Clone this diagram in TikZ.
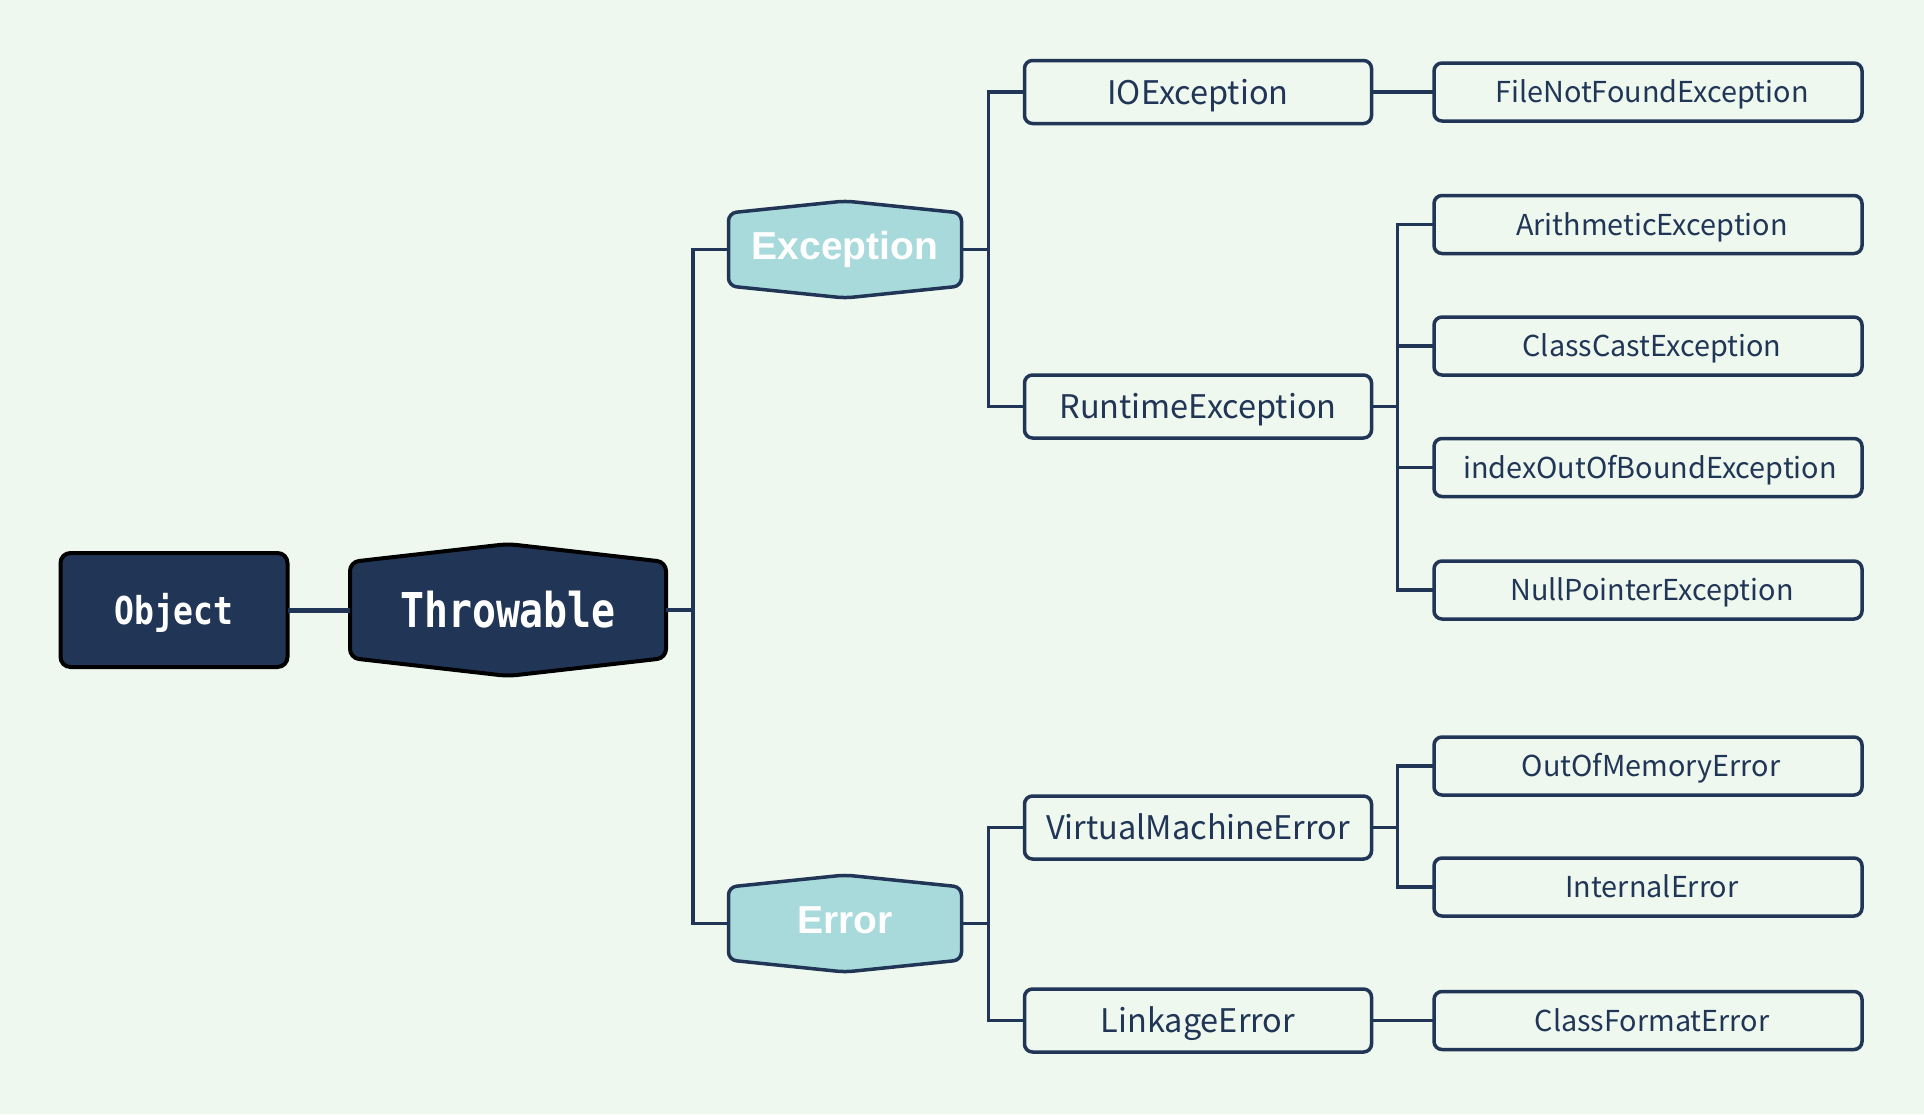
\documentclass[tikz,border=0pt]{standalone}
\usepackage{fontspec}
\newfontfamily\boxfont{Noto Sans CJK SC}
\newfontfamily\hexfont{Liberation Sans}
\newfontfamily\codefont{DejaVu Sans Mono}
\definecolor{bgc}{HTML}{EEF8EE}
\definecolor{navy}{HTML}{213656}
\definecolor{hexfill}{HTML}{A8DADC}
\pgfdeclarelayer{bg}
\pgfdeclarelayer{shp}
\pgfsetlayers{bg,shp,main}
\newcommand\hexshape[3]{\draw[#3] (#1.north) -- ([yshift=-#2pt]#1.north east) -- ([yshift=#2pt]#1.south east) -- (#1.south) -- ([yshift=#2pt]#1.south west) -- ([yshift=-#2pt]#1.north west) -- cycle;}
\begin{document}
\begin{tikzpicture}[x=1pt,y=-1pt,
  conn/.style={draw=navy,line width=3.2pt},
  midbox/.style={draw=navy,line width=3.5pt,rounded corners=8pt,minimum width=347pt,minimum height=63pt,inner sep=0pt,outer sep=0pt,text=navy,text height=24pt,text depth=0pt,font=\boxfont\fontsize{32.5}{38}\selectfont},
  leafbox/.style={draw=navy,line width=3.5pt,rounded corners=8pt,minimum width=428pt,minimum height=58pt,inner sep=0pt,outer sep=0pt,text=navy,text height=21pt,text depth=0pt,font=\boxfont\fontsize{28.8}{34}\selectfont},
  hexnode/.style={inner sep=0pt,outer sep=0pt,minimum width=233pt,minimum height=97pt,text=white,text height=27.6pt,text depth=8pt,font=\hexfont\bfseries\fontsize{39}{44}\selectfont},
  darkhex/.style={fill=navy,draw=black,line width=4pt,rounded corners=9pt},
  lighthex/.style={fill=hexfill,draw=navy,line width=3.5pt,rounded corners=8pt}
]
\begin{pgfonlayer}{bg}
\fill[bgc] (0,0) rectangle (1924,1114);
\end{pgfonlayer}
% root nodes
\node[draw=black,fill=navy,line width=4pt,rounded corners=10pt,minimum width=227pt,minimum height=114pt,inner sep=0pt,outer sep=0pt,text=white,text height=28pt,text depth=0pt,font=\codefont\bfseries\fontsize{38.4}{44}\selectfont] (obj) at (174,610) {\scalebox{0.86}[1]{Object}};
\node[inner sep=0pt,outer sep=0pt,minimum width=316pt,minimum height=132pt,text=white,text height=35pt,text depth=0pt,font=\codefont\bfseries\fontsize{48}{54}\selectfont] (thr) at (508,610) {\scalebox{0.83}[1]{Throwable}};
\node[hexnode] (exc) at (845,249.5) {Exception};
\node[hexnode] (err) at (845,923.5) {Error};
% middle boxes
\node[midbox] (io) at (1198,92) {IOException};
\node[midbox] (rt) at (1198,406.5) {RuntimeException};
\node[midbox] (vm) at (1198,827.5) {VirtualMachineError};
\node[midbox] (lk) at (1198,1020.5) {LinkageError};
% leaves
\node[leafbox] (fnf) at (1648,92) {\hspace*{8pt}FileNotFoundException};
\node[leafbox] (ari) at (1648,224.5) {\hspace*{8pt}ArithmeticException};
\node[leafbox] (ccx) at (1648,346) {\hspace*{8pt}ClassCastException};
\node[leafbox] (iob) at (1648,467.5) {\hspace*{4pt}indexOutOfBoundException};
\node[leafbox] (npe) at (1648,590) {\hspace*{8pt}NullPointerException};
\node[leafbox] (oom) at (1648,766) {\hspace*{6pt}OutOfMemoryError};
\node[leafbox] (ine) at (1648,887) {\hspace*{8pt}InternalError};
\node[leafbox] (cfe) at (1648,1020.5) {\hspace*{8pt}ClassFormatError};
% hexagon outlines
\begin{pgfonlayer}{shp}
\hexshape{thr}{18}{darkhex}
\hexshape{exc}{12}{lighthex}
\hexshape{err}{12}{lighthex}
\end{pgfonlayer}
% connectors
\draw[draw=navy,line width=5pt] (obj.east) -- (thr.west);
\coordinate (j0) at ([xshift=27pt]thr.east);
\draw[conn] (thr.east) -- (j0) |- (exc.west);
\draw[conn] (j0) |- (err.west);
\coordinate (j1) at ([xshift=27pt]exc.east);
\draw[conn] (exc.east) -- (j1) |- (io.west);
\draw[conn] (j1) |- (rt.west);
\coordinate (j2) at ([xshift=27pt]err.east);
\draw[conn] (err.east) -- (j2) |- (vm.west);
\draw[conn] (j2) |- (lk.west);
\draw[conn] (io.east) -- (fnf.west);
\coordinate (j3) at ([xshift=26pt]rt.east);
\draw[conn] (rt.east) -- (j3) |- (ari.west);
\draw[conn] (j3) |- (ccx.west);
\draw[conn] (j3) |- (iob.west);
\draw[conn] (j3) |- (npe.west);
\coordinate (j4) at ([xshift=26pt]vm.east);
\draw[conn] (vm.east) -- (j4) |- (oom.west);
\draw[conn] (j4) |- (ine.west);
\draw[conn] (lk.east) -- (cfe.west);
\end{tikzpicture}
\end{document}
